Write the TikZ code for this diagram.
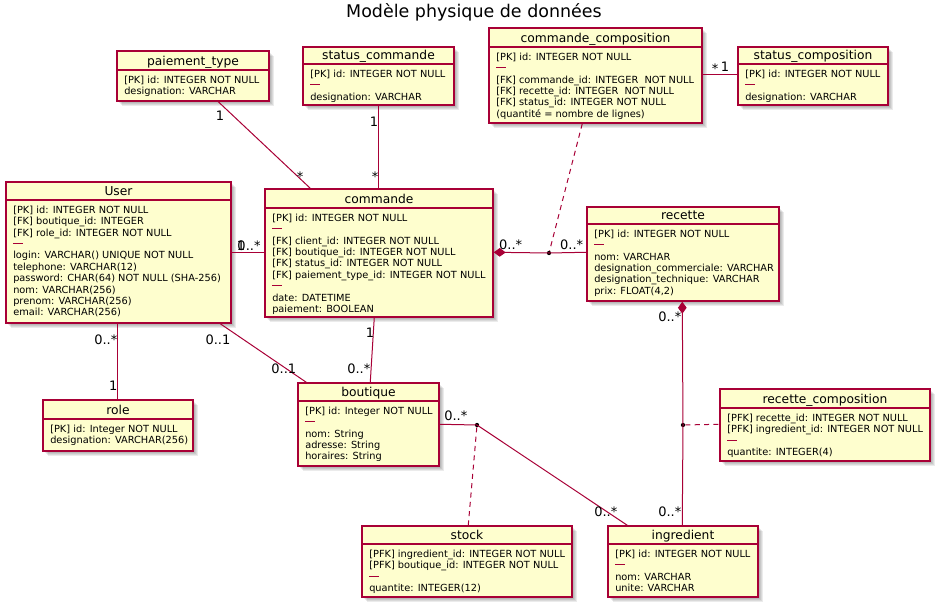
\documentclass[tikz,border=0pt]{standalone}
\usepackage{fontspec}
\setmainfont{DejaVu Sans}
\usetikzlibrary{calc,fit,arrows.meta}
\definecolor{crim}{HTML}{A80036}
\definecolor{ivory}{HTML}{FEFECE}
\newcommand\sepl{\textcolor{crim}{\rule[2.6pt]{7.5pt}{0.75pt}}}
\tikzset{
 ebox/.style={draw=crim, fill=ivory, line width=1.1pt, inner sep=0pt, rectangle},
 ebord/.style={draw=crim, line width=1.1pt},
 etitle/.style={font=\fontsize{9.2pt}{11pt}\selectfont, inner sep=0pt, anchor=base},
 ebody/.style={font=\fontsize{7.35pt}{8.55pt}\selectfont, anchor=north west, align=left, inner sep=0pt},
 conn/.style={draw=crim, line width=0.75pt},
 dconn/.style={conn, dash pattern=on 3.8pt off 3.2pt},
 lbl/.style={font=\fontsize{9.75pt}{11pt}\selectfont, inner sep=0pt, anchor=base},
 jdot/.style={circle, fill=black, inner sep=0pt, minimum size=3.2pt},
 comp/.style={{Diamond[length=9pt,width=6.5pt,fill=crim]}-},
}
% #1 name, #2 title, #3 x1, #4 y1, #5 x2, #6 y2, #7 header line y, #8 body
\newcommand\entity[8]{%
 \foreach \s in {2,3,4,5}{\fill[black,opacity=0.08] ({#3+\s},{#4+\s}) rectangle ({#5+\s},{#6+\s});}
 \node[ebox, fit={(#3,#4) (#5,#6)}] (#1) {};
 \draw[ebord] (#3,#7) -- (#5,#7);
 \node[etitle] (#1-t) at ({(#3+#5)/2},{#7-4.5}) {#2};
 \node[ebody] (#1-b) at ({#3+7},{#7+5.5}) {#8};
}
\begin{document}
\begin{tikzpicture}[x=0.75pt,y=-0.75pt]
\useasboundingbox (0,0) rectangle (940,607);
\node[font=\fontsize{13.1pt}{15pt}\selectfont, anchor=base] (title) at (474,17.3) {Modèle physique de données};

\entity{pt}{paiement\_type}{117}{51}{269}{101}{70}{[PK] id: INTEGER NOT NULL\\designation: VARCHAR}
\entity{sc}{status\_commande}{303}{47}{454}{105}{64}{[PK] id: INTEGER NOT NULL\\\sepl\\designation: VARCHAR}
\entity{cc}{commande\_composition}{489}{28}{702}{123}{47}{[PK] id: INTEGER NOT NULL\\\sepl\\{}[FK] commande\_id: INTEGER\ \ NOT NULL\\{}[FK] recette\_id: INTEGER\ \ NOT NULL\\{}[FK] status\_id: INTEGER NOT NULL\\{}(quantité = nombre de lignes)}
\entity{scomp}{status\_composition}{738}{47}{888}{105}{64}{[PK] id: INTEGER NOT NULL\\\sepl\\designation: VARCHAR}
\entity{user}{User}{6}{182}{231}{323}{200}{[PK] id: INTEGER NOT NULL\\{}[FK] boutique\_id: INTEGER\\{}[FK] role\_id: INTEGER NOT NULL\\\sepl\\login: VARCHAR() UNIQUE NOT NULL\\telephone: VARCHAR(12)\\password: CHAR(64) NOT NULL (SHA-256)\\nom: VARCHAR(256)\\prenom: VARCHAR(256)\\email: VARCHAR(256)}
\entity{cmd}{commande}{265}{189}{493}{317}{208}{[PK] id: INTEGER NOT NULL\\\sepl\\{}[FK] client\_id: INTEGER NOT NULL\\{}[FK] boutique\_id: INTEGER NOT NULL\\{}[FK] status\_id: INTEGER NOT NULL\\{}[FK] paiement\_type\_id: INTEGER NOT NULL\\\sepl\\date: DATETIME\\paiement: BOOLEAN}
\entity{rec}{recette}{587}{207}{779}{301}{224}{[PK] id: INTEGER NOT NULL\\\sepl\\nom: VARCHAR\\designation\_commerciale: VARCHAR\\designation\_technique: VARCHAR\\prix: FLOAT(4,2)}
\entity{role}{role}{43}{400}{193}{451}{419}{[PK] id: Integer NOT NULL\\designation: VARCHAR(256)}
\entity{bout}{boutique}{298}{383}{439}{466}{401}{[PK] id: Integer NOT NULL\\\sepl\\nom: String\\adresse: String\\horaires: String}
\entity{rc}{recette\_composition}{720}{389}{930}{461}{408}{[PFK] recette\_id: INTEGER NOT NULL\\{}[PFK] ingredient\_id: INTEGER NOT NULL\\\sepl\\quantite: INTEGER(4)}
\entity{ing}{ingredient}{608}{526}{758}{597}{544}{[PK] id: INTEGER NOT NULL\\\sepl\\nom: VARCHAR\\unite: VARCHAR}
\entity{stock}{stock}{362}{526}{572}{597}{544}{[PFK] ingredient\_id: INTEGER NOT NULL\\{}[PFK] boutique\_id: INTEGER NOT NULL\\\sepl\\quantite: INTEGER(12)}

% junctions
\node[jdot] (j1) at (549,253) {};
\node[jdot] (j2) at (683,425) {};
\node[jdot] (j3) at (477,425) {};

% connectors
\draw[conn] ($(pt.south west)+(102,0)$) -- ($(cmd.north west)+(46,0)$);
\draw[conn] ($(sc.south west)+(76,0)$) -- ($(cmd.north west)+(114,0)$);
\draw[dconn] ($(cc.south west)+(94,0)$) -- (j1);
\draw[conn] ($(cc.north east)+(0,47)$) -- ($(scomp.north west)+(0,28)$);
\draw[conn] ($(user.north east)+(0,71)$) -- ($(cmd.north west)+(0,64)$);
\draw[conn, comp] ($(cmd.north east)+(0,64)$) -- (j1.center) -- ($(rec.north west)+(0,46)$);
\draw[conn, comp] ($(rec.south west)+(96,0)$) -- (j2.center) -- ($(ing.north west)+(75,0)$);
\draw[dconn] (j2) -- ($(rc.north west)+(0,36)$);
\draw[conn] ($(user.south west)+(112,0)$) -- ($(role.north west)+(75,0)$);
\draw[conn] ($(user.south west)+(215,0)$) -- ($(bout.north west)+(9,0)$);
\draw[conn] ($(cmd.south west)+(110,0)$) -- ($(bout.north west)+(73,0)$);
\draw[conn] ($(bout.north east)+(0,42)$) -- (j3.center) -- ($(ing.north west)+(20,0)$);
\draw[dconn] (j3) -- ($(stock.north west)+(107,0)$);

% multiplicity labels
\node[lbl] (l1) at (220,120.7) {1};
\node[lbl] (l2) at (300,181.5) {*};
\node[lbl] (l3) at (374,126.7) {1};
\node[lbl] (l4) at (375,181.5) {*};
\node[lbl] (l5) at (715,73.5) {*};
\node[lbl] (l6) at (725,71.5) {1};
\node[lbl] (l7) at (241,250) {1};
\node[lbl] (l8) at (249,250) {0..*};
\node[lbl] (l9) at (510.7,249.5) {0..*};
\node[lbl] (l10) at (571.7,249.5) {0..*};
\node[lbl] (l11) at (669.8,321) {0..*};
\node[lbl] (l12) at (105.8,344.3) {0..*};
\node[lbl] (l13) at (113.3,390) {1};
\node[lbl] (l14) at (218,344.3) {0..1};
\node[lbl] (l15) at (283.8,373.3) {0..1};
\node[lbl] (l16) at (370,337.3) {1};
\node[lbl] (l17) at (358.8,373.3) {0..*};
\node[lbl] (l18) at (455.8,420) {0..*};
\node[lbl] (l19) at (605.8,516) {0..*};
\node[lbl] (l20) at (669.8,516.7) {0..*};
\end{tikzpicture}
\end{document}
